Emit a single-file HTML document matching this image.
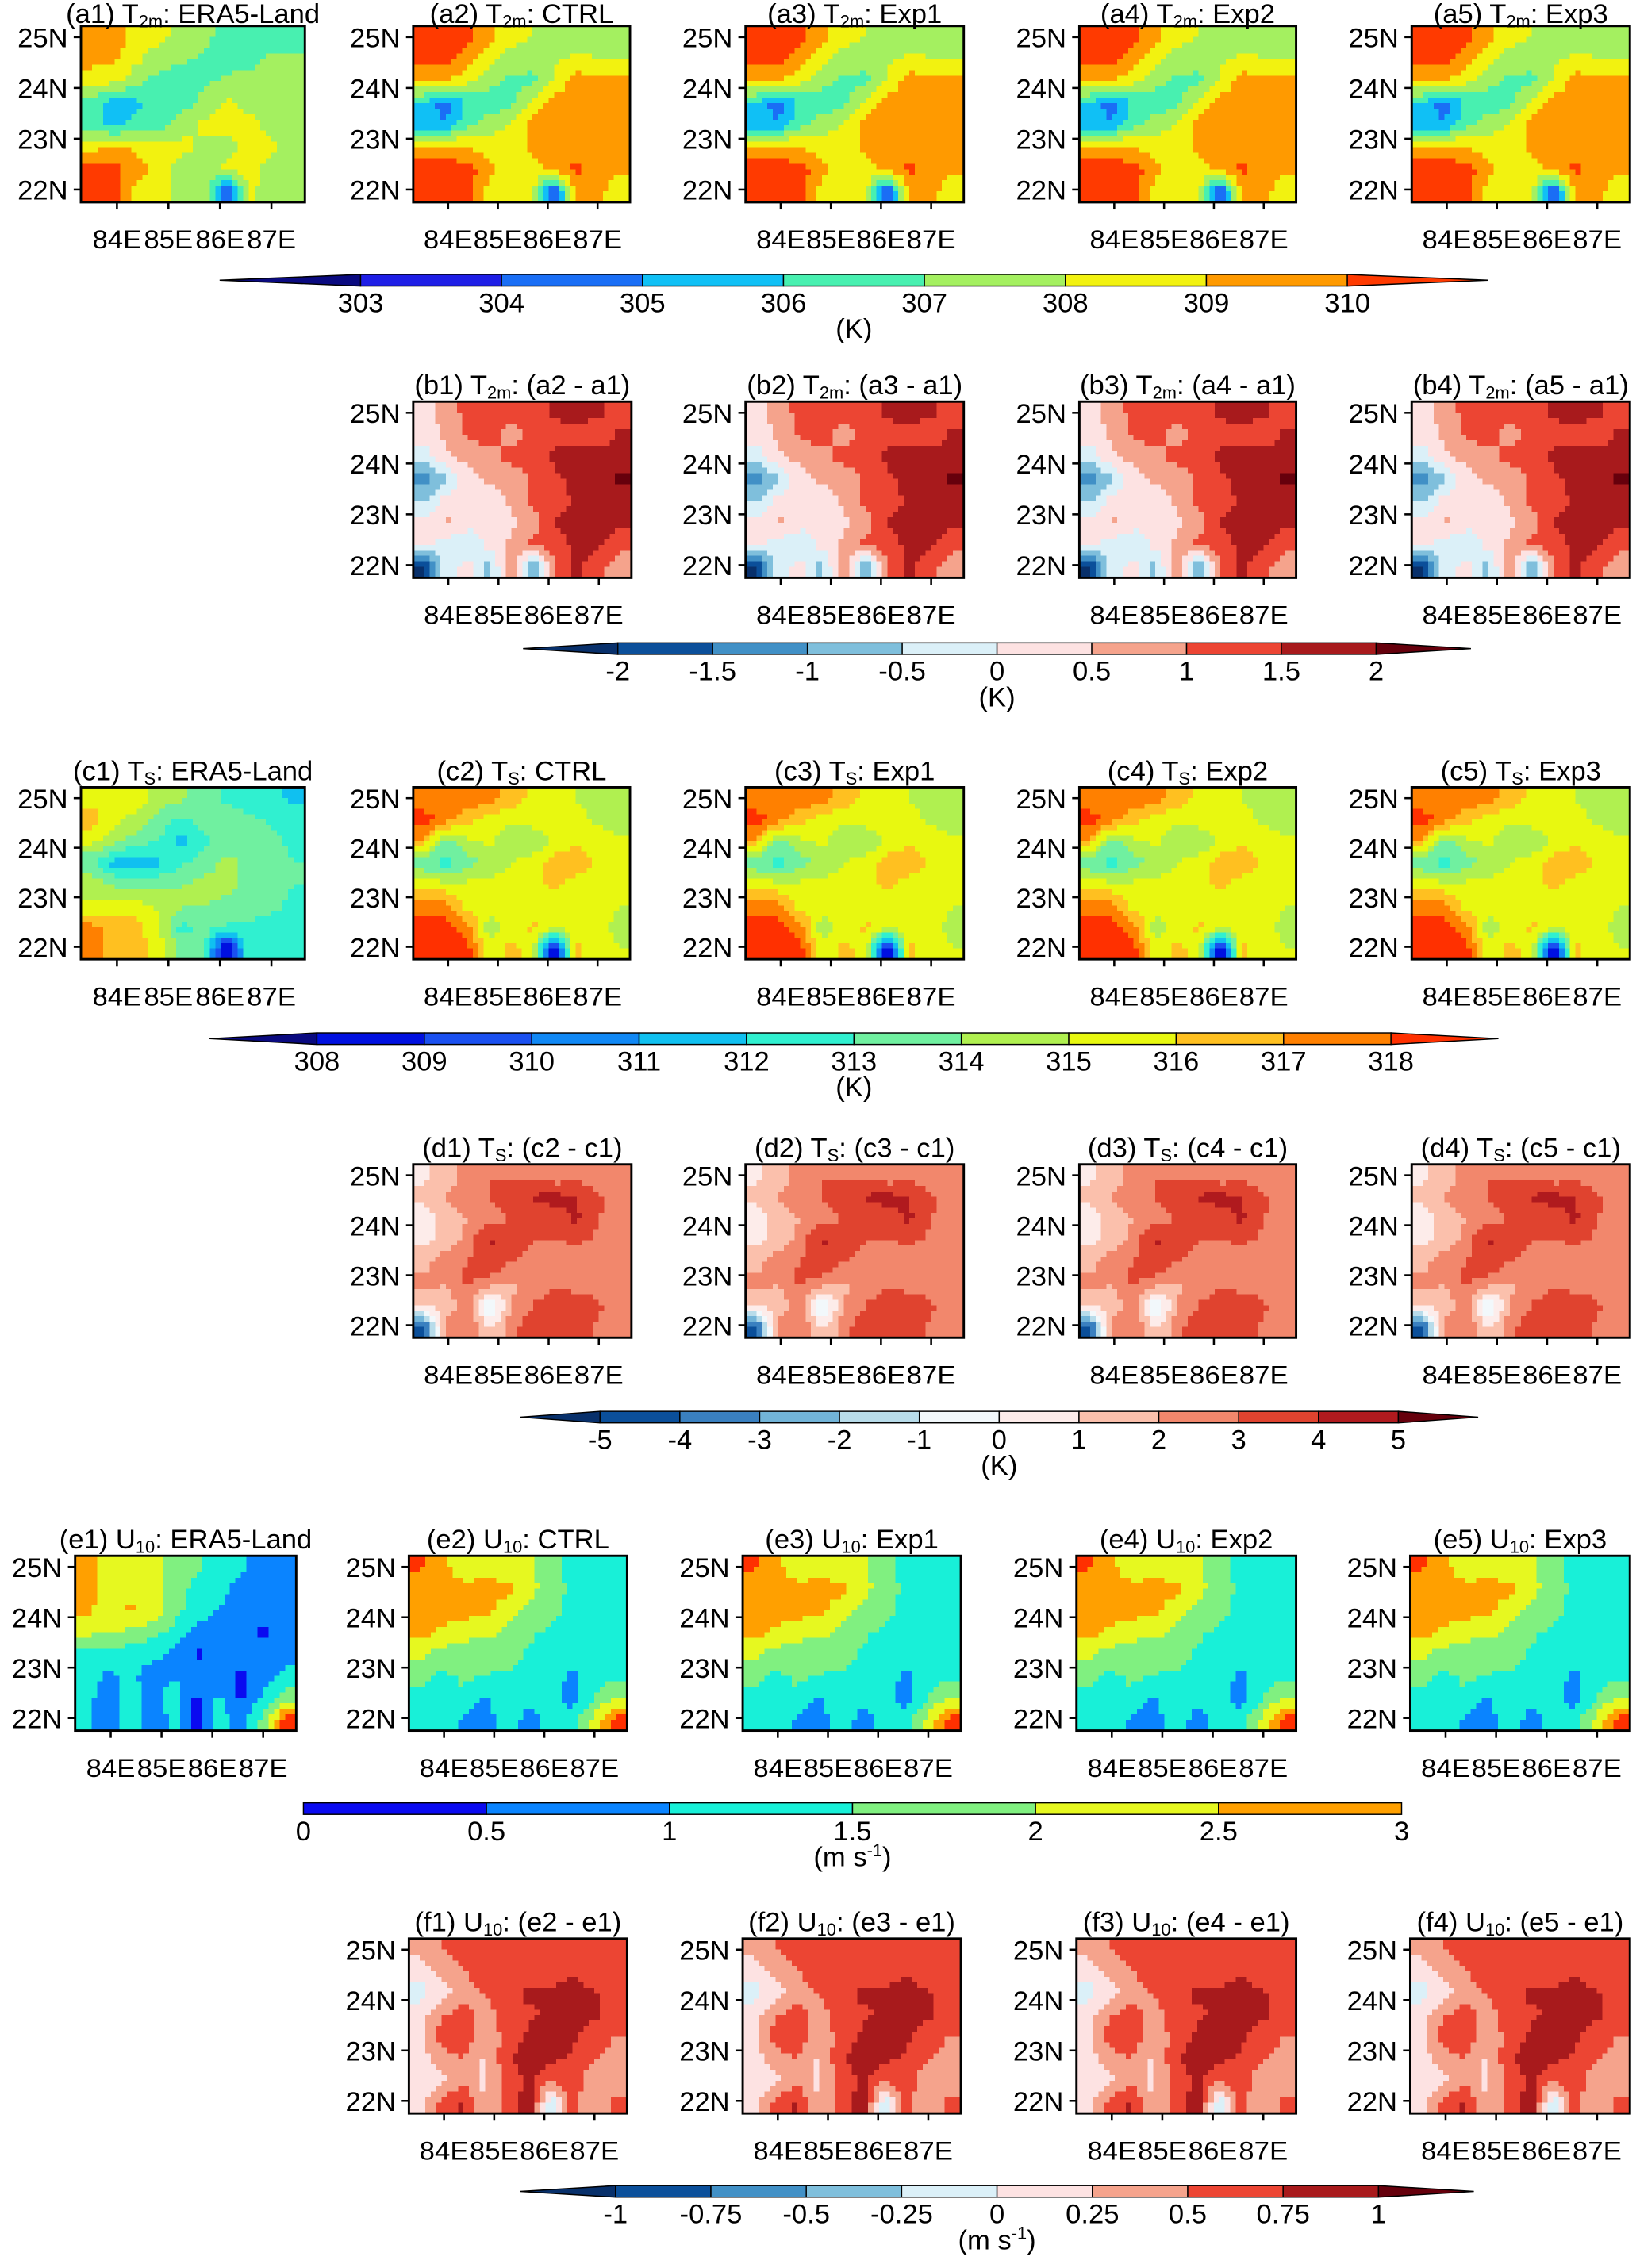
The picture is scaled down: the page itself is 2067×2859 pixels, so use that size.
<!DOCTYPE html>
<html><head><meta charset="utf-8"><title>T2m, Ts, U10 comparison</title>
<style>
html,body{margin:0;padding:0;background:#fff;}
svg{display:block;}
text{font-family:"Liberation Sans",Arial,sans-serif;fill:#000;}
</style></head>
<body>
<svg id="fig" width="2067" height="2859" viewBox="0 0 1135 1570" preserveAspectRatio="none" xmlns="http://www.w3.org/2000/svg"></svg>
<script>
// ===== Data (rows north->south, cols west->east) =====
const t2mEra = [
[309.4,309.5,308.5,308.3,307.5,307.3,306.5,306.6,306.5,306.0],
[309.3,309.2,308.2,307.5,307.2,306.8,306.5,306.6,307.2,307.5],
[308.5,308.3,307.3,306.6,306.0,306.8,307.2,307.5,307.5,307.5],
[306.5,305.5,305.8,306.4,306.5,307.4,308.2,307.6,307.3,307.5],
[306.3,305.6,306.4,306.6,307.6,308.2,308.3,308.4,307.6,307.5],
[308.6,309.2,308.8,308.3,308.3,307.8,307.6,308.3,308.2,307.5],
[310.5,310.3,309.4,308.6,307.5,307.6,308.3,308.4,307.6,307.5],
[310.5,310.4,308.7,308.5,307.6,307.5,303.5,308.2,307.6,307.2]];
const t2mModel = [
[310.5,310.4,310.3,309.2,308.4,308.0,307.7,307.6,307.8,307.6],
[310.4,310.5,309.5,308.5,307.5,307.6,307.8,308.2,308.0,307.8],
[309.3,309.0,308.2,307.3,306.8,306.6,308.2,309.5,309.5,309.5],
[305.7,304.5,306.2,306.5,306.7,308.4,309.4,309.5,309.5,309.5],
[305.5,305.0,306.8,307.4,308.2,309.3,309.5,309.5,309.5,309.5],
[309.3,309.5,309.0,308.5,308.5,309.3,309.4,309.5,309.5,309.5],
[310.5,310.4,310.5,309.3,308.3,308.4,309.5,310.2,309.5,309.4],
[310.5,310.4,310.3,308.6,308.3,308.4,303.5,309.5,309.5,308.0]];
const t2mDiff = [
[0.3,0.7,1.2,1.3,1.2,1.3,1.6,1.7,1.6,1.3],
[0.2,0.6,1.1,1.2,0.8,1.2,1.3,1.3,1.2,1.6],
[-0.3,0.4,0.7,0.8,1.2,1.3,1.6,1.8,1.7,1.8],
[-1.2,-0.6,0.3,0.6,0.7,1.1,1.4,1.7,1.9,2.1],
[-0.6,0.2,0.4,0.2,0.6,1.1,1.2,1.6,1.8,1.8],
[0.2,0.6,0.3,0.2,0.4,0.8,1.6,1.7,1.6,1.6],
[0.1,-0.3,-0.6,0.2,0.6,1.1,1.2,1.7,1.6,1.2],
[-2.2,-0.2,0.2,-0.7,1.1,-1.2,1.0,1.6,1.2,0.6]];
const tsEra = [
[315.5,315.3,315.6,314.5,314.2,313.5,312.8,312.5,312.2,311.8],
[316.5,315.2,314.6,313.5,312.8,313.3,313.6,313.2,312.8,312.5],
[315.3,314.4,313.5,313.0,311.6,312.8,313.6,313.8,313.2,312.8],
[313.2,311.5,311.4,311.8,312.8,313.6,314.2,313.8,313.4,313.0],
[314.5,313.8,313.5,313.6,314.0,314.3,314.2,313.8,313.4,313.0],
[315.2,315.6,315.3,314.8,314.2,314.0,313.8,313.5,313.2,312.8],
[317.3,316.6,316.4,315.2,312.5,313.5,312.8,312.8,312.7,312.6],
[317.4,316.5,316.5,315.3,313.8,313.0,307.5,312.8,312.7,312.0]];
const tsModel = [
[317.3,317.5,317.6,317.5,316.5,315.8,315.3,315.0,314.6,314.2],
[318.5,317.6,316.5,315.5,315.3,315.5,315.6,315.3,314.8,314.5],
[316.8,313.5,314.8,315.2,314.3,314.0,315.3,315.8,315.5,315.2],
[313.2,312.5,313.6,314.3,315.0,315.4,316.5,316.6,315.8,315.3],
[315.5,315.3,315.2,315.3,315.4,315.8,316.2,315.6,315.5,315.3],
[317.5,317.3,315.5,315.8,315.5,315.3,315.6,315.8,315.5,315.0],
[318.4,318.5,317.4,314.3,315.3,316.2,315.5,315.5,315.2,314.8],
[318.4,318.5,318.4,315.4,316.3,315.5,307.5,316.2,315.5,315.0]];
const tsDiff = [
[0.8,1.5,2.5,3.0,2.8,2.5,2.2,2.5,2.2,2.0],
[1.2,2.0,2.5,3.0,3.5,4.2,4.3,4.0,3.2,2.5],
[0.5,1.5,2.0,2.5,3.0,3.2,3.6,4.2,3.0,2.5],
[0.8,1.2,2.5,4.2,3.5,3.0,3.0,3.2,2.8,2.5],
[1.5,2.8,3.0,3.8,3.0,2.5,2.5,2.2,2.0,2.0],
[2.5,2.0,3.2,2.5,1.8,2.6,2.8,2.5,2.2,2.0],
[1.0,1.5,2.5,-1.5,2.0,3.0,3.5,3.8,3.2,2.5],
[-4.5,2.5,3.0,1.0,2.5,4.0,3.0,3.5,2.8,2.2]];
const u10Era = [
[2.7,2.3,2.2,2.2,1.8,1.6,1.2,1.1,0.8,0.8],
[2.7,2.3,2.3,2.2,1.8,1.3,1.1,0.9,0.8,0.8],
[2.6,2.3,2.6,2.3,1.7,1.2,1.0,0.8,0.7,0.8],
[2.1,2.0,1.9,1.7,1.3,0.9,0.8,0.8,0.4,0.8],
[1.4,1.3,1.2,1.1,0.9,0.4,0.7,0.8,0.8,0.9],
[1.2,0.9,1.1,0.8,1.0,0.8,0.7,0.4,0.8,1.1],
[1.1,0.8,1.2,0.8,1.2,0.4,1.1,0.4,1.1,1.8],
[1.1,0.8,1.2,0.8,1.1,0.4,1.1,0.9,1.6,3.2]];
const u10Model = [
[3.1,2.6,2.3,2.2,2.3,2.1,1.7,1.3,1.2,1.2],
[2.6,2.7,2.6,2.7,2.6,2.2,1.7,1.4,1.2,1.1],
[2.7,2.8,2.7,2.6,2.3,1.8,1.7,1.3,1.2,1.1],
[2.7,2.4,2.2,2.2,1.8,1.6,1.4,1.1,1.2,1.2],
[2.1,1.8,1.7,1.6,1.8,1.4,1.2,1.1,1.2,1.2],
[1.7,1.4,1.6,1.5,1.4,1.2,1.2,0.9,1.3,1.4],
[1.3,1.2,1.4,0.9,1.3,1.2,1.1,0.8,1.5,2.0],
[1.2,1.3,0.9,0.8,1.3,0.8,1.2,1.2,2.2,3.2]];
const u10Diff = [
[0.3,0.5,0.6,0.6,0.6,0.6,0.6,0.7,0.6,0.6],
[0.1,0.3,0.5,0.6,0.7,0.6,0.6,0.7,0.5,0.6],
[-0.1,0.1,0.4,0.5,0.7,0.8,0.8,0.9,0.8,0.6],
[0.1,0.5,0.6,0.4,0.6,0.7,0.8,0.9,0.8,0.6],
[0.2,0.6,0.7,0.3,0.6,0.8,0.9,0.8,0.6,0.5],
[0.1,0.4,0.5,0.2,0.7,0.9,0.8,0.7,0.5,0.4],
[0.0,0.2,0.4,0.2,0.6,0.8,0.5,0.7,0.3,0.3],
[0.1,0.6,0.8,0.2,0.6,0.9,-0.2,0.6,0.2,0.6]];

// Contour levels / tick labels
const t2mLevels = [303,304,305,306,307,308,309,310];
const t2mDiffLevels = [-2,-1.5,-1,-0.5,0,0.5,1,1.5,2];
const tsLevels = [308,309,310,311,312,313,314,315,316,317,318];
const tsDiffLevels = [-5,-4,-3,-2,-1,0,1,2,3,4,5];
const u10Levels = [0,0.5,1,1.5,2,2.5,3];
const u10DiffLevels = [-1,-0.75,-0.5,-0.25,0,0.25,0.5,0.75,1];
const latLabels = ['25N','24N','23N','22N'];
const lats = [25,24,23,22];
const lonLabels = ['84E','85E','86E','87E'];
const lons = [84,85,86,87];

// Colours
const t2mColors = ['#0a0a80','#1e1ee6','#1a6ef5','#10c0f5','#48f0b0','#a4f060','#f2f210','#ff9a00','#ff3a00'];
const tsColors = ['#0a0a80','#0010e0','#1a50f0','#1088f5','#10c0f0','#30f0d0','#70f0a0','#b0f050','#e8f810','#ffc020','#ff8000','#ff3000'];
const diffColors = ['#08306b','#0b4f9a','#4190c6','#7fbfdc','#dbf0f8','#fde2e2','#f5a38c','#ec4533','#a81a1c','#66000c'];
const dColors = ['#08306b','#0b4f9a','#3a80c0','#72b4d8','#b8dcea','#f2f8fb','#fdecea','#fbc0ac','#f2876c','#e0432f','#b01a1e','#66000c'];
const uColors = ['#0a0af0','#0a84ff','#18f0d8','#80f080','#e6f820','#ffa000','#ff3000'];

// ===== Rendering =====
const NS = 'http://www.w3.org/2000/svg';
const svg = document.getElementById('fig');
const LON0 = 83.3, LON1 = 87.65, LAT0 = 21.75, LAT1 = 25.22;

function mk(tag, attrs, parent) {
  const e = document.createElementNS(NS, tag);
  for (const k in attrs) e.setAttribute(k, attrs[k]);
  (parent || svg).appendChild(e);
  return e;
}
function classify(v, levels) {
  let i = 0;
  while (i < levels.length && v >= levels[i]) i++;
  return i;
}
function sample(grid, fx, fy) {
  const R = grid.length, C = grid[0].length;
  let gx = fx * C - 0.5, gy = fy * R - 0.5;
  gx = Math.max(0, Math.min(C - 1, gx)); gy = Math.max(0, Math.min(R - 1, gy));
  const x0 = Math.floor(gx), y0 = Math.floor(gy);
  const x1 = Math.min(C - 1, x0 + 1), y1 = Math.min(R - 1, y0 + 1);
  const tx = gx - x0, ty = gy - y0;
  const a = grid[y0][x0] * (1 - tx) + grid[y0][x1] * tx;
  const b = grid[y1][x0] * (1 - tx) + grid[y1][x1] * tx;
  return a * (1 - ty) + b * ty;
}

function panel(name, x0, y0, x1, y1, grid, levels, colors, tPre, tSub, tPost, titleY) {
  const g = mk('g', {});
  
  
  const w = x1 - x0, h = y1 - y0;
  const xs = lon => x0 + (lon - LON0) / (LON1 - LON0) * w;
  const ys = lat => y0 + (LAT1 - lat) / (LAT1 - LAT0) * h;
  const NX = 40, NY = 32;
  const cg = mk('g', {'shape-rendering': 'crispEdges'}, g);
  
  
  for (let j = 0; j < NY; j++) {
    for (let i = 0; i < NX; i++) {
      const v = sample(grid, (i + 0.5) / NX, (j + 0.5) / NY);
      const c = colors[classify(v, levels)];
      const r = mk('rect', {x: (x0 + i * w / NX).toFixed(2), y: (y0 + j * h / NY).toFixed(2),
        width: (w / NX + 0.6).toFixed(2), height: (h / NY + 0.6).toFixed(2), fill: c}, cg);
      
      
    }
  }
  const fr = mk('rect', {x: x0, y: y0, width: w, height: h, fill: 'none', stroke: '#000', 'stroke-width': 1.6}, g);
  
  
  lats.forEach((lat, k) => {
    const y = ys(lat);
    mk('line', {x1: x0 - 5, x2: x0, y1: y, y2: y, stroke: '#000', 'stroke-width': 1.4}, g);
    const t = mk('text', {x: x0 - 9, y: y + 7, 'text-anchor': 'end', 'font-size': 19}, g);
    t.textContent = latLabels[k];
    
    
  });
  lons.forEach((lon, k) => {
    const x = xs(lon);
    mk('line', {x1: x, x2: x, y1: y1, y2: y1 + 5, stroke: '#000', 'stroke-width': 1.4}, g);
    const t = mk('text', {x: x, y: y1 + 32, 'text-anchor': 'middle', 'font-size': 18, textLength: 34, lengthAdjust: 'spacingAndGlyphs'}, g);
    t.textContent = lonLabels[k];
    
    
  });
  const ty = titleY !== undefined ? titleY : y0 - 5;
  const tt = mk('text', {x: (x0 + x1) / 2, y: ty, 'text-anchor': 'middle', 'font-size': 19}, g);
  
  
  const s1 = mk('tspan', {}, tt); s1.textContent = tPre;
  const s2 = mk('tspan', {'font-size': 12, dy: 3}, tt); s2.textContent = tSub;
  const s3 = mk('tspan', {dy: -3}, tt); s3.textContent = tPost;
}

function colorbar(name, xL, xR, y, levels, colors, unitText, unitSup, triangles) {
  const g = mk('g', {});
  
  
  const h = 8;
  const n = levels.length;
  let bx0, bw;
  if (triangles) { bw = (xR - xL) / (n + 1); bx0 = xL + bw; }
  else { bw = (xR - xL) / (n - 1); bx0 = xL; }
  if (triangles) {
    const p1 = mk('polygon', {points: `${xL},${y + h / 2} ${bx0},${y} ${bx0},${y + h}`, fill: colors[0], stroke: '#000', 'stroke-width': 0.8}, g);
     
    for (let i = 0; i < n - 1; i++) {
      const r = mk('rect', {x: bx0 + i * bw, y: y, width: bw, height: h, fill: colors[i + 1], stroke: '#000', 'stroke-width': 0.8}, g);
       
    }
    const xe = bx0 + (n - 1) * bw;
    const p2 = mk('polygon', {points: `${xe},${y} ${xR},${y + h / 2} ${xe},${y + h}`, fill: colors[n], stroke: '#000', 'stroke-width': 0.8}, g);
     
  } else {
    for (let i = 0; i < n - 1; i++) {
      const r = mk('rect', {x: bx0 + i * bw, y: y, width: bw, height: h, fill: colors[i], stroke: '#000', 'stroke-width': 0.8}, g);
       
    }
  }
  levels.forEach((lv, i) => {
    const t = mk('text', {x: bx0 + i * bw, y: y + h + 18, 'text-anchor': 'middle', 'font-size': 19}, g);
    t.textContent = String(lv);
     
  });
  const ux = triangles ? bx0 + (n - 1) / 2 * bw : (xL + xR) / 2;
  const ut = mk('text', {x: ux, y: y + h + 36, 'text-anchor': 'middle', 'font-size': 19}, g);
   
  const a = mk('tspan', {}, ut); a.textContent = unitText;
  if (unitSup) {
    const b = mk('tspan', {'font-size': 12, dy: -7}, ut); b.textContent = unitSup;
    const c = mk('tspan', {dy: 7}, ut); c.textContent = ')';
  }
}

const colX5 = [[56,211],[286,436],[516,667],[747,897],[977,1128]];
const colX4 = [[286,437],[516,667],[747,897],[977,1128]];
const expNames = ['CTRL','Exp1','Exp2','Exp3'];

panel('panel-a1', colX5[0][0], 18, colX5[0][1], 140, t2mEra, t2mLevels, t2mColors, '(a1) T', '2m', ': ERA5-Land', 16);
for (let k = 0; k < 4; k++) panel('panel-a' + (k + 2), colX5[k + 1][0], 18, colX5[k + 1][1], 140, t2mModel, t2mLevels, t2mColors, '(a' + (k + 2) + ') T', '2m', ': ' + expNames[k], 16);
colorbar('colorbar-a', 152, 1030, 190, t2mLevels, t2mColors, '(K)', null, true);
for (let k = 0; k < 4; k++) panel('panel-b' + (k + 1), colX4[k][0], 278, colX4[k][1], 400, t2mDiff, t2mDiffLevels, diffColors, '(b' + (k + 1) + ') T', '2m', ': (a' + (k + 2) + ' - a1)');
colorbar('colorbar-b', 362, 1018, 445, t2mDiffLevels, diffColors, '(K)', null, true);
panel('panel-c1', colX5[0][0], 545, colX5[0][1], 664, tsEra, tsLevels, tsColors, '(c1) T', 'S', ': ERA5-Land');
for (let k = 0; k < 4; k++) panel('panel-c' + (k + 2), colX5[k + 1][0], 545, colX5[k + 1][1], 664, tsModel, tsLevels, tsColors, '(c' + (k + 2) + ') T', 'S', ': ' + expNames[k]);
colorbar('colorbar-c', 145, 1037, 715, tsLevels, tsColors, '(K)', null, true);
for (let k = 0; k < 4; k++) panel('panel-d' + (k + 1), colX4[k][0], 806, colX4[k][1], 926, tsDiff, tsDiffLevels, dColors, '(d' + (k + 1) + ') T', 'S', ': (c' + (k + 2) + ' - c1)');
colorbar('colorbar-d', 360, 1023, 977, tsDiffLevels, dColors, '(K)', null, true);
const colXe = [[52,205],[283,434],[514,665],[745,897],[976,1128]];
panel('panel-e1', colXe[0][0], 1077, colXe[0][1], 1198, u10Era, u10Levels.slice(1), uColors, '(e1) U', '10', ': ERA5-Land');
for (let k = 0; k < 4; k++) panel('panel-e' + (k + 2), colXe[k + 1][0], 1077, colXe[k + 1][1], 1198, u10Model, u10Levels.slice(1), uColors, '(e' + (k + 2) + ') U', '10', ': ' + expNames[k]);
colorbar('colorbar-e', 210, 970, 1248, u10Levels, uColors, '(m s', '-1', false);
for (let k = 0; k < 4; k++) panel('panel-f' + (k + 1), colXe[k + 1][0], 1342, colXe[k + 1][1], 1463, u10Diff, u10DiffLevels, diffColors, '(f' + (k + 1) + ') U', '10', ': (e' + (k + 2) + ' - e1)');
colorbar('colorbar-f', 360, 1020, 1513, u10DiffLevels, diffColors, '(m s', '-1', true);
</script>
</body></html>
